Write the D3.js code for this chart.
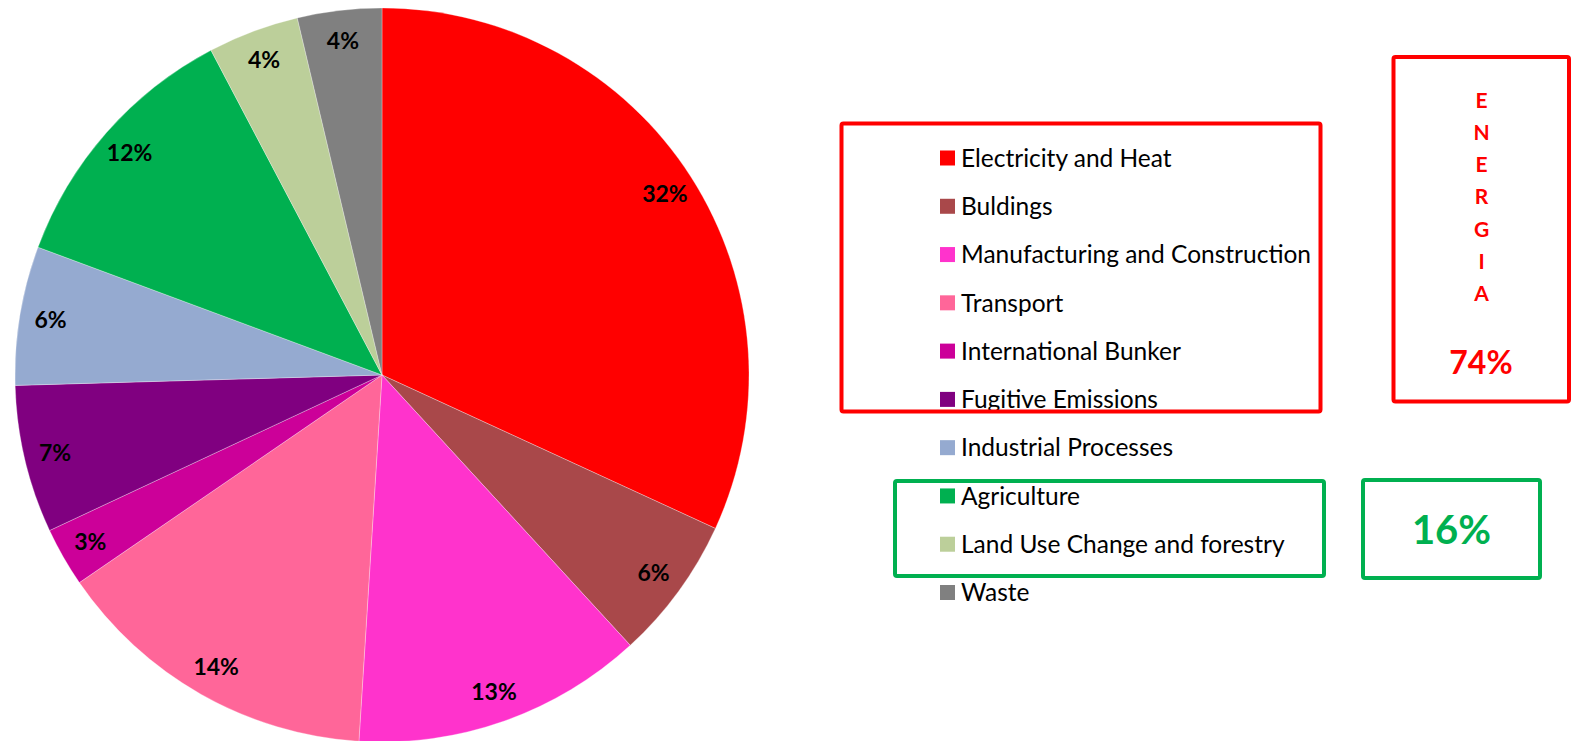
<!DOCTYPE html>
<meta charset="utf-8">
<head>
  <title>Emissions by sector</title>
</head>
<style>
body { margin: 0; background: #fff; font-family: Lato, "Open Sans", sans-serif; }
.lbl { font-weight: bold; font-size: 23px; fill: #000; }
.leg { font-size: 24.5px; fill: #000; }
</style>
<body>
<svg id="chart" width="1575" height="741"></svg>
<script src="https://cdnjs.cloudflare.com/ajax/libs/d3/7.8.5/d3.min.js"></script>
<script>
// sectors, clockwise from 12 o'clock
var sectors = ["Electricity and Heat", "Buldings", "Manufacturing and Construction", "Transport",
  "International Bunker", "Fugitive Emissions", "Industrial Processes", "Agriculture",
  "Land Use Change and forestry", "Waste"];
var shares = [31.8, 6.3, 12.8, 14.4, 2.6, 6.5, 6.1, 11.6, 4.0, 3.7];
var colours = ["#ff0000", "#a9484a", "#ff33cc", "#ff6699", "#cc0099", "#800080",
  "#95aad0", "#00b050", "#bccf9a", "#808080"];
var energyLetters = ["E", "N", "E", "R", "G", "I", "A"];
var energyTotal = "74%";
var landTotal = "16%";

var svg = d3.select("#chart");

var cx = 382, cy = 375, radius = 367;

var pie = d3.pie().sort(null).value(function(d) { return d; });
var arc = d3.arc().innerRadius(0).outerRadius(radius);
var labelArc = d3.arc().innerRadius(336).outerRadius(336);

var g = svg.append("g").attr("transform", "translate(" + cx + "," + cy + ")");
var arcs = pie(shares);

g.selectAll("path")
  .data(arcs)
  .enter().append("path")
    .attr("d", arc)
    .attr("fill", function(d, i) { return colours[i]; })
    .attr("stroke", "#fff")
    .attr("stroke-width", 0.3);

g.selectAll("text")
  .data(arcs)
  .enter().append("text")
    .attr("class", "lbl")
    .attr("transform", function(d) { return "translate(" + labelArc.centroid(d) + ")"; })
    .attr("text-anchor", "middle")
    .attr("dy", "0.35em")
    .text(function(d) { return Math.round(d.value) + "%"; });

// legend
var legY = d3.scalePoint().domain(sectors).range([158, 592.5]);
var leg = svg.append("g");
var rows = leg.selectAll("g")
  .data(sectors)
  .enter().append("g")
    .attr("transform", function(d) { return "translate(940," + legY(d) + ")"; });
rows.append("rect")
  .attr("x", 0).attr("y", -7.5)
  .attr("width", 15).attr("height", 15)
  .attr("fill", function(d, i) { return colours[i]; });
rows.append("text")
  .attr("class", "leg")
  .attr("x", 21)
  .attr("dy", "0.36em")
  .text(function(d) { return d; });

// group boxes
svg.append("rect")
  .attr("x", 841.5).attr("y", 123.5).attr("width", 479).attr("height", 288).attr("rx", 2)
  .attr("fill", "none").attr("stroke", "#ff0000").attr("stroke-width", 4);
svg.append("rect")
  .attr("x", 895).attr("y", 481).attr("width", 429).attr("height", 95).attr("rx", 2)
  .attr("fill", "none").attr("stroke", "#00b050").attr("stroke-width", 4);

svg.append("rect")
  .attr("x", 1393.5).attr("y", 57).attr("width", 175.5).attr("height", 344.5).attr("rx", 2)
  .attr("fill", "none").attr("stroke", "#ff0000").attr("stroke-width", 4);
var letY = d3.scalePoint().domain(d3.range(energyLetters.length)).range([100, 293.5]);
svg.append("g").selectAll("text")
  .data(energyLetters)
  .enter().append("text")
    .attr("x", 1481.5)
    .attr("y", function(d, i) { return letY(i); })
    .attr("dy", "0.36em")
    .attr("text-anchor", "middle")
    .style("font-weight", "bold").style("font-size", "21px")
    .attr("fill", "#ff0000")
    .text(function(d) { return d; });
svg.append("text")
  .attr("x", 1481).attr("y", 362).attr("dy", "0.36em")
  .attr("text-anchor", "middle")
  .style("font-weight", "bold").style("font-size", "32px")
  .attr("fill", "#ff0000")
  .text(energyTotal);

svg.append("rect")
  .attr("x", 1363).attr("y", 480).attr("width", 177).attr("height", 98).attr("rx", 2)
  .attr("fill", "none").attr("stroke", "#00b050").attr("stroke-width", 4);
svg.append("text")
  .attr("x", 1451.5).attr("y", 530).attr("dy", "0.36em")
  .attr("text-anchor", "middle")
  .style("font-weight", "bold").style("font-size", "40px")
  .attr("fill", "#00b050")
  .text(landTotal);
</script>
</body>
